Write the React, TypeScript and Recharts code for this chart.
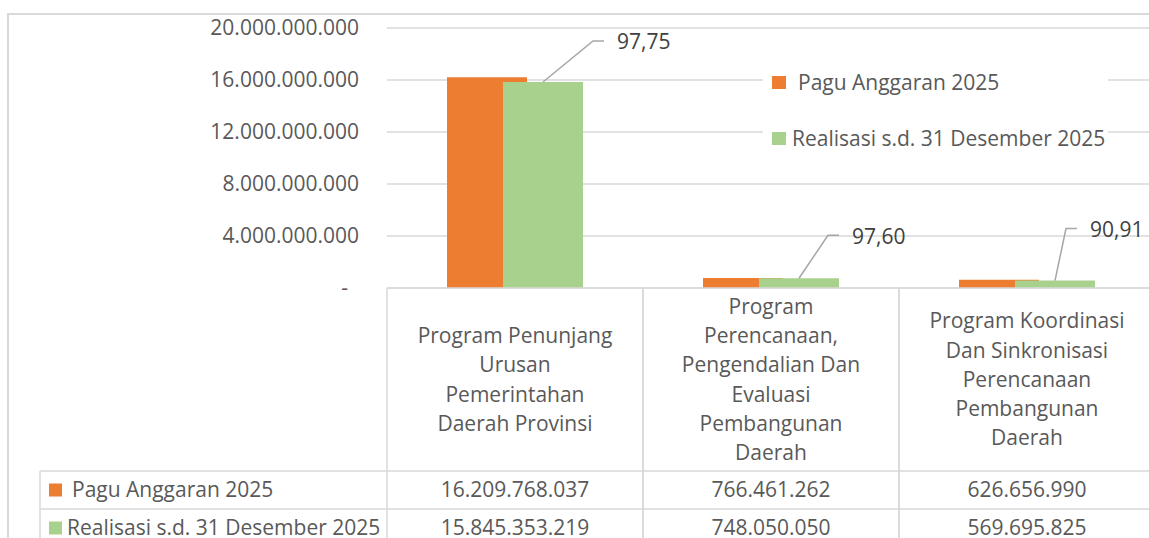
import React from 'react';
import { BarChart, Bar, XAxis, YAxis, CartesianGrid, Legend, LabelList } from 'recharts';

// ---------- data ----------
const categories = [
  'Program Penunjang\nUrusan\nPemerintahan\nDaerah Provinsi',
  'Program\nPerencanaan,\nPengendalian Dan\nEvaluasi\nPembangunan\nDaerah',
  'Program Koordinasi\nDan Sinkronisasi\nPerencanaan\nPembangunan\nDaerah',
];
const paguAnggaran = [16209768037, 766461262, 626656990];
const realisasi = [15845353219, 748050050, 569695825];
const persentase = ['97,75', '97,60', '90,91'];
const seriesNames = ['Pagu Anggaran 2025', 'Realisasi s.d. 31 Desember 2025'];
const yTicks = [0, 4000000000, 8000000000, 12000000000, 16000000000, 20000000000];

// ---------- style ----------
const ORANGE = '#ED7D31';
const GREEN = '#A9D18E';
const GRID = '#d9d9d9';
const TXT = '#595959';
const FONT = '"Open Sans", sans-serif';
const FS = 21;
const HEADER_H = 183;
const ROW_H = 38;
const LINE_H = 29.3;
const TABLE_LEFT = 40;
const LABEL_OFFSETS = [
  { dx: 50, dy: -41 },
  { dx: 29, dy: -43 },
  { dx: 11, dy: -52 },
];

const fmt = (n: number) => String(Math.round(n)).replace(/\B(?=(\d{3})+(?!\d))/g, '.');

const data = categories.map((c, i) => ({
  name: c,
  pagu: paguAnggaran[i],
  realisasi: realisasi[i],
  pct: persentase[i],
}));

const YTick = (props: any) => {
  const { x, y, payload } = props;
  const v = payload.value;
  return (
    <text
      x={v === 0 ? x - 11 : x}
      y={y}
      dy="0.35em"
      textAnchor="end"
      fill={TXT}
      fontFamily={FONT}
      fontSize={FS}
    >
      {v === 0 ? '-' : fmt(v)}
    </text>
  );
};

const XTick = (props: any) => {
  const { x, y, payload } = props;
  const index = payload.index ?? props.index ?? 0;
  const half = payload.offset || 128;
  const lines = String(payload.value).split('\n');
  const mid = y + HEADER_H / 2;
  const r1 = y + HEADER_H;
  const r2 = r1 + ROW_H;
  const bottom = y + 300;
  const tprops = { fill: TXT, fontFamily: FONT, fontSize: FS, textAnchor: 'middle' as const, dy: '0.35em' };
  return (
    <g>
      <line x1={x - half} y1={y} x2={x - half} y2={bottom} stroke={GRID} strokeWidth={1.5} />
      <line x1={x + half} y1={y} x2={x + half} y2={bottom} stroke={GRID} strokeWidth={1.5} />
      <line x1={x - half} y1={r1} x2={x + half} y2={r1} stroke={GRID} strokeWidth={1.5} />
      <line x1={x - half} y1={r2} x2={x + half} y2={r2} stroke={GRID} strokeWidth={1.5} />
      {lines.map((l, i) => (
        <text key={i} x={x} y={mid + (i - (lines.length - 1) / 2) * LINE_H} {...tprops}>
          {l}
        </text>
      ))}
      <text x={x} y={r1 + ROW_H / 2} {...tprops}>{fmt(paguAnggaran[index])}</text>
      <text x={x} y={r2 + ROW_H / 2} {...tprops}>{fmt(realisasi[index])}</text>
      {index === 0 && (
        <g>
          <line x1={TABLE_LEFT} y1={r1} x2={x - half} y2={r1} stroke={GRID} strokeWidth={1.5} />
          <line x1={TABLE_LEFT} y1={r2} x2={x - half} y2={r2} stroke={GRID} strokeWidth={1.5} />
          <line x1={TABLE_LEFT} y1={r1} x2={TABLE_LEFT} y2={bottom} stroke={GRID} strokeWidth={1.5} />
          <rect x={TABLE_LEFT + 9} y={r1 + ROW_H / 2 - 6.5} width={13} height={13} fill={ORANGE} />
          <text x={TABLE_LEFT + 32} y={r1 + ROW_H / 2} fill={TXT} fontFamily={FONT} fontSize={FS} dy="0.35em">
            {seriesNames[0]}
          </text>
          <rect x={TABLE_LEFT + 9} y={r2 + ROW_H / 2 - 6.5} width={13} height={13} fill={GREEN} />
          <text x={TABLE_LEFT + 27} y={r2 + ROW_H / 2} fill={TXT} fontFamily={FONT} fontSize={FS} dy="0.35em">
            {seriesNames[1]}
          </text>
        </g>
      )}
    </g>
  );
};

const renderPct = (props: any) => {
  const { x, y, width, index, value } = props;
  const o = LABEL_OFFSETS[index] || { dx: 20, dy: -40 };
  const sx = Number(x) + Number(width) / 2;
  const sy = Number(y);
  const ex = sx + o.dx;
  const ey = sy + o.dy;
  return (
    <g>
      <polyline
        points={`${sx},${sy} ${ex},${ey} ${ex + 11},${ey}`}
        fill="none"
        stroke="#a6a6a6"
        strokeWidth={1.5}
      />
      <text x={ex + 24} y={ey + 1} dy="0.35em" fill="#404040" fontFamily={FONT} fontSize={FS}>
        {value}
      </text>
    </g>
  );
};

const LegendBox = () => (
  <div style={{ position: 'relative', width: 345, height: 104, fontFamily: FONT, fontSize: FS, color: TXT }}>
    <div style={{ position: 'absolute', left: 9, top: 17.5, width: 14, height: 13, background: ORANGE }} />
    <div style={{ position: 'absolute', left: 35, top: 9, lineHeight: '30px', whiteSpace: 'nowrap' }}>{seriesNames[0]}</div>
    <div style={{ position: 'absolute', left: 9, top: 73.5, width: 14, height: 13, background: GREEN }} />
    <div style={{ position: 'absolute', left: 29, top: 65, lineHeight: '30px', whiteSpace: 'nowrap' }}>{seriesNames[1]}</div>
  </div>
);

export default function App() {
  return (
    <div style={{ position: 'absolute', left: 0, top: 0, width: 1149, height: 538, overflow: 'hidden', background: '#fff' }}>
      <div
        style={{
          position: 'absolute',
          left: 7,
          top: 13,
          width: 2000,
          height: 1000,
          borderLeft: '2px solid #d9d9d9',
          borderTop: '2px solid #d9d9d9',
        }}
      />
      <div style={{ position: 'absolute', left: 0, top: 0 }}>
        <BarChart
          width={1155}
          height={538}
          data={data}
          margin={{ top: 28, right: 0, bottom: 0, left: 0 }}
          barSize={80}
          barGap={-24}
        >
          <CartesianGrid vertical={false} stroke={GRID} strokeWidth={1.5} />
          <XAxis
            dataKey="name"
            height={250}
            interval={0}
            tickLine={false}
            tickSize={0}
            tickMargin={0}
            axisLine={{ stroke: GRID, strokeWidth: 1.5 }}
            tick={<XTick />}
          />
          <YAxis
            width={387}
            domain={[0, 20000000000]}
            ticks={yTicks}
            axisLine={false}
            tickLine={false}
            tickMargin={22}
            tick={<YTick />}
          />
          <Legend
            layout="vertical"
            align="center"
            verticalAlign="middle"
            wrapperStyle={{ left: 763, top: 58, width: 345, height: 104, background: '#fff' }}
            content={() => <LegendBox />}
          />
          <Bar dataKey="pagu" name={seriesNames[0]} fill={ORANGE} isAnimationActive={false} />
          <Bar dataKey="realisasi" name={seriesNames[1]} fill={GREEN} isAnimationActive={false}>
            <LabelList dataKey="pct" content={renderPct} />
          </Bar>
        </BarChart>
      </div>
    </div>
  );
}
